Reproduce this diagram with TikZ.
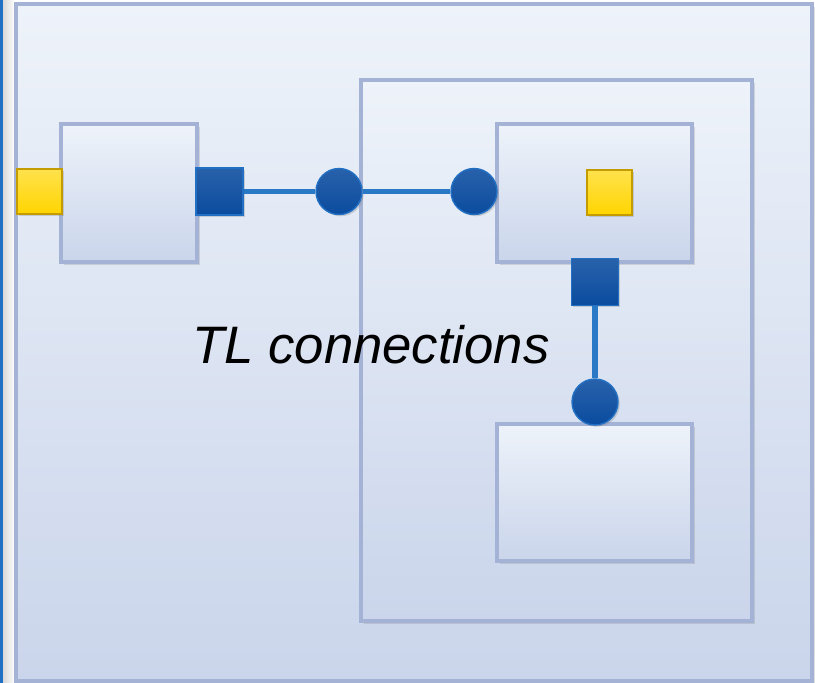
\documentclass[tikz,border=0pt]{standalone}
\usepackage{fontspec}
\newfontfamily\tlfont{Liberation Sans}
\usetikzlibrary{shadows}

\definecolor{boxtop}{HTML}{EEF3FA}
\definecolor{boxbot}{HTML}{CAD5EB}
\definecolor{boxline}{HTML}{A4B2D5}
\definecolor{portblue}{HTML}{0B4C9F}
\definecolor{portedge}{HTML}{2170C4}
\definecolor{wire}{HTML}{2A79C6}
\definecolor{portyel}{HTML}{FFD500}
\definecolor{yeledge}{HTML}{C49C00}

\tikzset{
  block/.style={draw=boxline, line width=2pt, top color=boxtop, bottom color=boxbot,
    inner sep=0pt, drop shadow={shadow xshift=1.5pt, shadow yshift=-1.5pt, opacity=0.25}},
  outport/.style={draw=portedge, line width=0.8pt, top color=portblue!88!white, bottom color=portblue,
    minimum size=0.94cm, inner sep=0pt, drop shadow={shadow xshift=1pt, shadow yshift=-1pt, opacity=0.3}},
  inport/.style={draw=yeledge, line width=0.8pt, top color=portyel!70!white, bottom color=portyel,
    minimum size=0.9cm, inner sep=0pt, drop shadow={shadow xshift=1pt, shadow yshift=-1pt, opacity=0.3}},
  tlport/.style={circle, draw=portedge, line width=0.8pt, top color=portblue!88!white, bottom color=portblue,
    minimum size=0.92cm, inner sep=0pt, drop shadow={shadow xshift=1pt, shadow yshift=-1pt, opacity=0.3}},
  wire/.style={draw=wire, line width=3.4pt}
}

\begin{document}
\begin{tikzpicture}[x=0.02cm, y=-0.02cm]
\useasboundingbox (0,0) rectangle (815,683);
% window edge on the left
\fill[portedge] (0,0) rectangle (3,683);
\shade[left color=gray!30, right color=white] (3,0) rectangle (15,683);
% model and subsystem
\node[block, minimum width=15.92cm, minimum height=13.54cm] (model) at (414,342.5) {};
\node[block, minimum width=7.82cm, minimum height=10.82cm] (sub) at (556.5,350.5) {};
% blocks
\node[block, minimum width=2.72cm, minimum height=2.76cm] (blkA) at (129,193) {};
\node[block, minimum width=3.9cm, minimum height=2.76cm] (blkB) at (594.5,193) {};
\node[block, minimum width=3.9cm, minimum height=2.74cm] (blkC) at (594.5,492.5) {};
% ports
\node[inport] (inA) at (39.5,191.5) {};
\node[outport] (outA) at (219.5,191.5) {};
\node[inport] (inB) at (609.5,192.5) {};
\node[outport] (outB) at (595,282) {};
\node[tlport] (tl1) at (339,191.5) {};
\node[tlport] (tl2) at (474,191.5) {};
\node[tlport] (tl3) at (595,402) {};
% connections
\foreach \a/\b in {outA/tl1, tl1/tl2, outB/tl3}
  \draw[wire] (\a) -- (\b);
\node[font=\tlfont\itshape\fontsize{30}{36}\selectfont] (lbl) at (371,345) {TL connections};
\end{tikzpicture}
\end{document}
